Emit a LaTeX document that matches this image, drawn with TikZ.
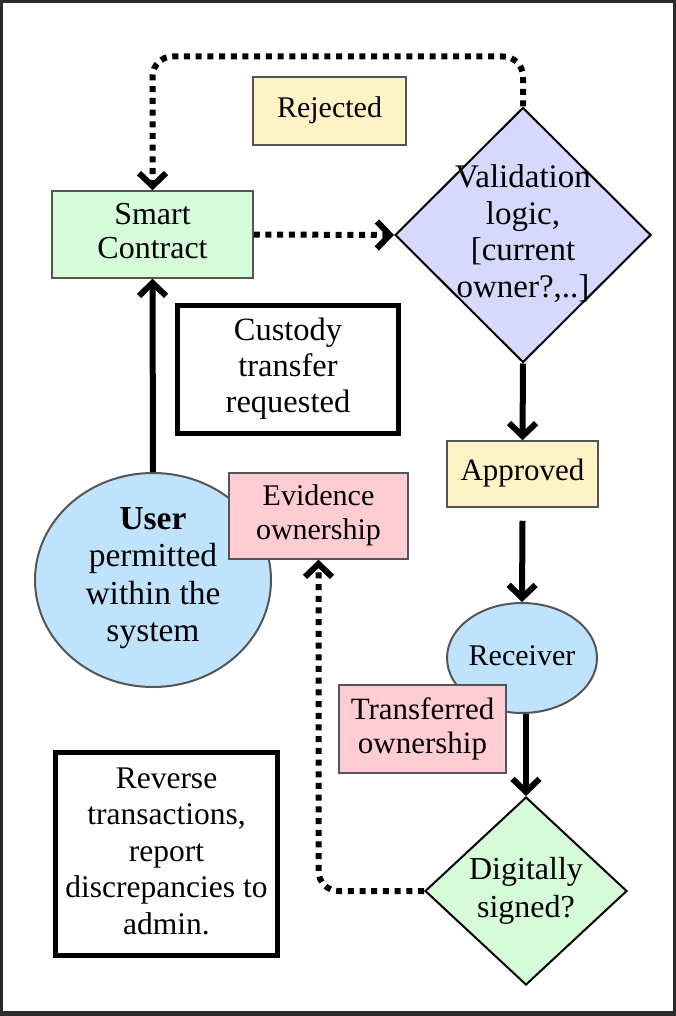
\documentclass[tikz,border=0pt]{standalone}
\usepackage{fontspec}
\setmainfont{Liberation Serif}
\usetikzlibrary{shapes.geometric,arrows.meta,calc}
\definecolor{cyel}{HTML}{FFF3C6}
\definecolor{cgrn}{HTML}{D5FBD9}
\definecolor{clav}{HTML}{D6D9FC}
\definecolor{cblu}{HTML}{BFE3FD}
\definecolor{cpnk}{HTML}{FFCCD3}
\definecolor{cbrd}{HTML}{555555}
\definecolor{cfrm}{HTML}{2B2B2B}
\tikzset{
  txt/.style={align=center, inner sep=0pt},
  cbox/.style={rectangle, draw=cbrd, line width=1.5pt, inner sep=0pt},
  tbox/.style={rectangle, draw=black, line width=5pt, fill=white, inner sep=0pt},
  dshape/.style={diamond, draw=black, line width=2pt, inner sep=0pt},
  eshape/.style={ellipse, draw=cbrd, line width=2pt, fill=cblu, inner sep=0pt},
  tipA/.style={-{Straight Barb[length=13pt,width=27pt,line width=6pt]}},
  solidcon/.style={tipA, line width=6pt},
  dotcon/.style={tipA, line width=6pt, dash pattern=on 6pt off 5.7pt},
}
\begin{document}
\begin{tikzpicture}[x=1pt,y=-1pt]
\useasboundingbox (0,0) rectangle (676,1016);
\fill[cfrm] (0,0) rectangle (676,1016);
\fill[white] (3,3) rectangle (673,1011);

% nodes
\node[cbox, fill=cyel, minimum width=153, minimum height=68] (rej) at (329.5,111) {};
\node[txt, font=\fontsize{30}{34}\selectfont] (rejt) at (329.5,110) {Rejected};
\node[cbox, fill=cgrn, minimum width=201, minimum height=87] (sc) at (152.5,234.5) {};
\node[txt, font=\fontsize{32}{34}\selectfont] (sct) at (152.5,231) {Smart\\Contract};
\node[dshape, fill=clav, minimum width=256, minimum height=255] (val) at (523,235) {};
\node[txt, font=\fontsize{33}{36.7}\selectfont] (valt) at (523,233.5) {Validation\\logic,\\{[current}\\owner?,..]};
\node[tbox, minimum width=221, minimum height=128] (cus) at (288,369.5) {};
\node[txt, font=\fontsize{32.5}{36}\selectfont] (cust) at (288,369) {Custody\\transfer\\requested};
\node[cbox, fill=cyel, minimum width=151, minimum height=66] (appr) at (522.5,474) {};
\node[txt, font=\fontsize{31}{35}\selectfont] (apprt) at (522.5,473) {Approved};
\node[eshape, minimum width=236, minimum height=214] (user) at (153,580) {};
\node[txt, font=\fontsize{33.5}{37.5}\selectfont] (usert) at (153,578) {\textbf{User}\\permitted\\within the\\system};
\node[cbox, fill=cpnk, minimum width=179, minimum height=86] (ev) at (318.5,516) {};
\node[txt, font=\fontsize{30}{34}\selectfont] (evt) at (318.5,515.5) {Evidence\\ownership};
\node[eshape, minimum width=150, minimum height=110] (recv) at (522,658) {};
\node[txt, font=\fontsize{30}{34}\selectfont] (recvt) at (522,656) {Receiver};
\node[cbox, fill=cpnk, minimum width=167, minimum height=88] (tr) at (422.5,729) {};
\node[txt, font=\fontsize{31}{34}\selectfont] (trt) at (422.5,729) {Transferred\\ownership};
\node[tbox, minimum width=222, minimum height=203] (rev) at (166.5,854) {};
\node[txt, font=\fontsize{31.5}{36.5}\selectfont] (revt) at (166.5,851) {Reverse\\transactions,\\report\\discrepancies to\\admin.};
\node[dshape, fill=cgrn, minimum width=202, minimum height=188] (dig) at (526,891) {};
\node[txt, font=\fontsize{32}{38}\selectfont] (digt) at (526,891) {Digitally\\signed?};

% connectors
\coordinate (topR) at ($(val.north)+(0,-50)$);
\draw[dotcon, rounded corners=20pt] (val.north) -- (topR) -| (sc.north);
\draw[dotcon] (sc.east) -- (val.west);
\draw[solidcon] (user.north) -- (sc.south);
\draw[solidcon] (val.south) -- (appr.north);
\coordinate (apprOut) at ($(appr.south)+(0,13)$);
\draw[solidcon] (apprOut) -- (recv.north);
\coordinate (recvOut) at (dig.north |- recv.south);
\draw[solidcon] (recvOut) -- (dig.north);
\draw[dotcon, rounded corners=20pt] (dig.west) -| (ev.south);
\end{tikzpicture}
\end{document}
